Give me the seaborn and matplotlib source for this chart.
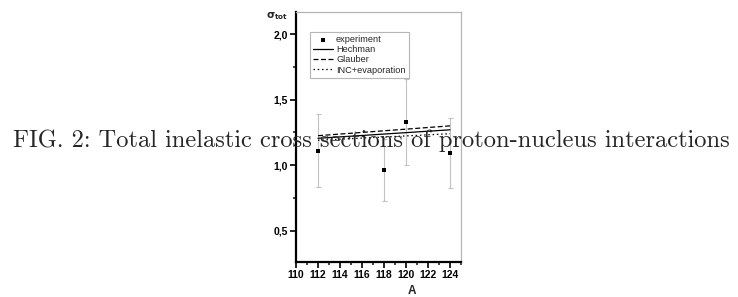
import matplotlib
matplotlib.use("Agg")
import matplotlib.pyplot as plt
import seaborn as sns
import pandas as pd
from matplotlib.ticker import MultipleLocator, FuncFormatter

# ---- data ----
A_exp = [112, 118, 120, 124]
sigma_exp = [1.11, 0.962, 1.33, 1.095]
sigma_err = [0.277, 0.237, 0.327, 0.267]

A_model = [112, 124]
hechman = [1.205, 1.270]
glauber = [1.225, 1.300]
inc_evap = [1.190, 1.240]

x_ticks = [110, 112, 114, 116, 118, 120, 122, 124]
y_ticks = [0.5, 1.0, 1.5, 2.0]
caption = "FIG. 2: Total inelastic cross sections of proton-nucleus interactions"

sns.set_style("ticks")
plt.rcParams['font.family'] = ['Liberation Sans', 'DejaVu Sans']

fig = plt.figure(figsize=(7.38, 2.97), dpi=100)
ax = fig.add_axes([296/738, 35/297, 165/738, 250/297])

df_exp = pd.DataFrame({"A": A_exp, "sigma": sigma_exp, "err": sigma_err})
df_mod = pd.DataFrame({"A": A_model, "Hechman": hechman, "Glauber": glauber,
                       "INC+evaporation": inc_evap})

ax.errorbar(df_exp["A"], df_exp["sigma"], yerr=df_exp["err"], fmt="none",
            ecolor="#c2c2c2", elinewidth=0.8, capsize=1.8, capthick=0.8, zorder=2)
sns.scatterplot(data=df_exp, x="A", y="sigma", marker="s", s=10, color="black",
                edgecolor="black", linewidth=0, ax=ax, label="experiment", zorder=4)
sns.lineplot(data=df_mod, x="A", y="Hechman", color="black", lw=0.9, ax=ax,
             label="Hechman", zorder=3)
sns.lineplot(data=df_mod, x="A", y="Glauber", color="black", lw=0.9, ax=ax,
             label="Glauber", zorder=3, linestyle=(0, (4, 2)))
sns.lineplot(data=df_mod, x="A", y="INC+evaporation", color="black", lw=0.9, ax=ax,
             label="INC+evaporation", zorder=3, linestyle=(0, (1.2, 2.2)))

ax.set_xlim(110, 125)
ax.set_ylim(0.26, 2.17)
ax.set_xticks(x_ticks)
ax.set_yticks(y_ticks)
ax.xaxis.set_minor_locator(MultipleLocator(1))
ax.yaxis.set_minor_locator(MultipleLocator(0.25))
ax.yaxis.set_major_formatter(FuncFormatter(lambda v, p: f"{v:.1f}".replace(".", ",")))
ax.tick_params(axis="both", which="major", direction="out", length=4, width=1.2,
               labelsize=7.5, pad=2, colors="black")
ax.tick_params(axis="both", which="minor", direction="out", length=2.5, width=1.2)
for lab in ax.get_xticklabels() + ax.get_yticklabels():
    lab.set_fontweight("bold")

for s in ["left", "bottom"]:
    ax.spines[s].set_color("black")
    ax.spines[s].set_linewidth(1.6)
for s in ["top", "right"]:
    ax.spines[s].set_visible(True)
    ax.spines[s].set_color("#b5b5b5")
    ax.spines[s].set_linewidth(0.9)

ax.set_xlabel("")
ax.set_ylabel("")
fig.text(412/738, 1 - 291/297, "A", fontsize=8.5, fontweight="bold",
         ha="center", va="center")
fig.text(277/738, 1 - 16/297, r"$\mathbf{\sigma}_{\mathbf{tot}}$", fontsize=7.5,
         ha="center", va="center")

leg = ax.legend(loc="upper left", bbox_to_anchor=(14/165, 1 - 20/250), fontsize=6.6,
                frameon=True, fancybox=False, framealpha=1, edgecolor="#b5b5b5",
                handlelength=2.2, handletextpad=0.3, borderpad=0.35,
                labelspacing=0.12, borderaxespad=0)
leg.get_frame().set_linewidth(0.8)

fig.text(371/738, 1 - 141/297, caption, fontsize=17.6, family="cmr10",
         ha="center", va="center", zorder=10)

fig.savefig("out.png", dpi=100)
